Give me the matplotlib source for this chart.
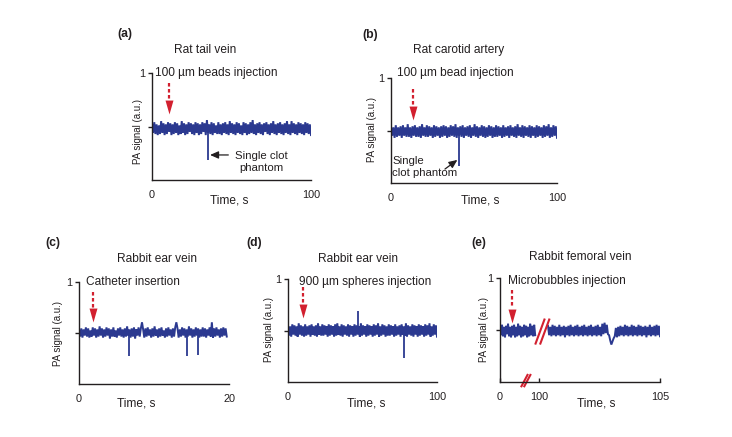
import numpy as np
import matplotlib

matplotlib.use("Agg")
import matplotlib.pyplot as plt  # noqa: E402

NAVY = "#2b3990"
RED = "#d2202f"
INK = "#231f20"

# ---- panel (a): rat tail vein ----
A_END = 100
A_BASE = 0.48
A_NOISE = [5, -4, 6, -5, 4, -6, 3, -5, 7, -4, 5, -6, 4, -5, 6, -3, 5, -6, 4, -5,
           6, -4, 5, -6, 3, -5, 7, -4, 5, -6, 4, -5, 6, -3, 5, -5, 4, -6, 6, -4,
           5, -6, 4, -5, 6, -3, 5, -6, 8, -4, 4, -5, 6, -6, 5, -4, 3, -5, 6, -5,
           4, -6, 5, -4, 6, -5, 4, -6, 7, -4, 5, -5, 4, -6, 6, -4, 5, -5, 3, -6,
           6, -4, 5, -6, 4, -5, 6, -4, 8, -5, 4, -6, 5, -4, 6, -5, 4, -6, 5, -3,
           6, -5, 4, -6, 5, -4, 7, -5, 4, -6, 5, -4, 6, -5, 4, -6, 5, -4, 7, -5,
           4, -6, 7, -4, 5, -5, 4, -6, 6, -4, 5, -5, 4, -6, 6, -4, 5, -5, 4, -6]
A_SPIKE_T = [35]
A_SPIKE_V = [0.19]

# ---- panel (b): rat carotid artery ----
B_END = 100
B_BASE = 0.49
B_NOISE = [5, -4, 4, -6, 6, -5, 4, -4, 5, -6, 6, -4, 4, -5, 7, -5, 4, -6, 5, -4,
           6, -5, 4, -5, 5, -6, 7, -4, 4, -5, 6, -5, 5, -4, 4, -6, 6, -5, 5, -4,
           4, -6, 5, -5, 6, -4, 5, -6, 4, -5, 6, -4, 5, -5, 7, -6, 4, -4, 5, -5,
           6, -6, 4, -4, 5, -5, 6, -6, 4, -4, 7, -5, 5, -6, 4, -4, 6, -5, 5, -6,
           4, -5, 6, -4, 5, -6, 4, -5, 6, -5, 5, -4, 4, -6, 6, -5, 4, -4, 5, -6,
           6, -4, 4, -5, 5, -6, 7, -4, 4, -5, 6, -6, 5, -4, 4, -5, 6, -6, 5, -4,
           4, -6, 6, -5, 5, -4, 4, -6, 6, -5, 5, -4, 7, -6, 4, -5, 6, -4, 5, -6]
B_SPIKE_T = [41]
B_SPIKE_V = [0.16]

# ---- panel (c): rabbit ear vein, catheter ----
C_END = 19.7
C_BASE = 0.505
C_NOISE = [3, -4, 4, -5, 3, -3, 5, -4, 4, -5, 2, -4, 5, -3, 4, -5, 3, -4, 6, -3,
           4, -5, 3, -4, 5, -3, 4, -6, 3, -4, 5, -4, 2, -5, 4, -3, 5, -4, 3, -5,
           4, -4, 6, -3, 3, -5, 4, -4, 5, -6, 3, -3, 5, -4, 4, 10, 3, -5, 4, -4,
           5, -3, 3, -5, 4, -4, 6, -3, 3, -5, 4, -4, 5, -3, 2, -5, 4, -4, 5, -3,
           3, -5, 4, -4, 5, 10, 4, -5, 3, -4, 5, -3, 4, -5, 3, -4, 6, -3, 4, -5,
           3, -4, 5, -3, 4, -5, 3, -4, 5, -4, 4, -5, 3, -3, 5, -4, 10, -5, 4, -4,
           5, -3, 3, -5, 4, -4, 5, -3, 4, -4]
C_SPIKE_T = [6.7, 14.4, 15.8]
C_SPIKE_V = [0.27, 0.27, 0.28]

# ---- panel (d): rabbit ear vein, spheres ----
D_END = 100
D_BASE = 0.50
D_NOISE = [5, -5, 4, -6, 6, -4, 5, -5, 4, -6, 7, -4, 5, -5, 4, -6, 6, -5, 4, -4,
           5, -6, 6, -4, 4, -5, 5, -6, 7, -4, 4, -5, 6, -5, 5, -4, 4, -6, 6, -5,
           5, -4, 4, -6, 6, -5, 7, -4, 4, -5, 6, -6, 5, -4, 4, -5, 6, -6, 5, -4,
           4, -6, 6, -5, 5, -4, 4, -6, 7, -5, 5, -4, 4, -6, 6, -5, 5, -4, 4, -6,
           6, -5, 5, -4, 7, -6, 4, -5, 6, -4, 5, -6, 4, -5, 6, -5, 5, -4, 4, -6,
           6, -5, 4, -4, 5, -6, 6, -4, 4, -5, 7, -6, 5, -4, 4, -5, 6, -6, 5, -4,
           4, -6, 6, -5, 5, -4, 4, -6, 6, -5, 5, -4, 7, -6, 4, -5, 6, -4, 5, -6]
D_SPIKE_T = [47, 78]
D_SPIKE_V = [0.69, 0.23]

# ---- panel (e): rabbit femoral vein (broken time axis) ----
E_BASE = 0.49
E1_RANGE = (0, 22)
E1_NOISE = [5, -4, 6, -5, 4, -6, 5, -3, 7, -5, 4, -6, 5, -4, 6, -6, 4, -5, 7, -4,
            5, -6, 4, -5, 6, -4, 5, -6, 4, -5, 7, -4, 5, -5, 6, -4]
E2_RANGE = (30, 100)
E2_NOISE = [5, -4, 4, -5, 6, -4, 5, -5, 4, -4, 6, -5, 4, -4, 5, -6, 4, -4, 5, -5,
            6, -4, 4, -5, 5, -4, 6, -5, 4, -4, 5, -5, 6, -4, 4, -5, 5, -4, 6, -5,
            4, -4, 5, -5, 6, -4, 4, -5, 7, -3, 8, -2, 6, -3, -4, -9, -13, -10, -7, -5,
            3, -6, 4, -5, 5, -4, 4, -5, 6, -4, 5, -5, 4, -4, 6, -5, 5, -4, 4, -5,
            6, -4, 5, -5, 4, -4, 5, -6, 4, -4, 6, -5, 4, -4, 5, -5, 6, -4, 5, -5]
E_TICKS = [0, 24.6, 100]
E_TICKLABELS = ["0", "100", "105"]

LETTERS = ["(a)", "(b)", "(c)", "(d)", "(e)"]
TITLES = ["Rat tail vein", "Rat carotid artery", "Rabbit ear vein",
          "Rabbit ear vein", "Rabbit femoral vein"]
INJECTIONS = ["100 \u00b5m beads injection", "100 \u00b5m bead injection",
              "Catheter insertion", "900 \u00b5m spheres injection",
              "Microbubbles injection"]
XMAX_LABEL = ["100", "100", "20", "100", None]

plt.rcParams["font.family"] = ["Liberation Sans", "DejaVu Sans"]
FS = 8.6      # titles, annotations, axis titles
CFS = 8.2     # clot annotations
YFS = 7.0     # y-axis label
TFS = 7.8     # tick labels
LFS = 8.8     # panel letters

fig = plt.figure(figsize=(7.32, 4.37), dpi=100)
fig.patch.set_facecolor("white")

# axes rectangles in pixels: left, right, top, bottom
RECTS = [(152, 311, 73, 180), (391, 557, 78, 183), (79, 229, 282, 384),
         (288, 437, 279, 382), (500, 660, 278, 382)]
axes = []
for l, r, t, b in RECTS:
    axes.append(fig.add_axes([l / 732, 1 - b / 437, (r - l) / 732, (b - t) / 437]))

# text placement (axes fractions): title, letter, xlabel, ylabel
TITLE_POS = [(0.333, 1.215), (0.406, 1.267), (0.518, 1.222), (0.472, 1.19), (0.5, 1.2)]
LETTER_POS = [(-0.17, 1.36), (-0.127, 1.41), (-0.177, 1.38), (-0.228, 1.35), (-0.13, 1.34)]
XLAB_POS = [(0.484, -0.187), (0.536, -0.162), (0.384, -0.19), (0.528, -0.207), (0.604, -0.205)]
YLAB_POS = [(-0.088, 0.45), (-0.114, 0.505), (-0.138, 0.497), (-0.125, 0.505), (-0.1, 0.5)]
# injection label (data x, axes y) and arrow (x, dash start, head top, tip)
INJ_POS = [(2, 1.0), (3.4, 1.05), (0.9, 1.0), (7.6, 0.97), (5.2, 0.97)]
ARROWS = [(10.9, 0.91, 0.748, 0.617), (13.5, 0.90, 0.733, 0.60),
          (1.9, 0.905, 0.745, 0.61), (9.8, 0.925, 0.757, 0.628),
          (7.3, 0.885, 0.708, 0.564)]
XLIMS = [100, 100, 20, 100, 100]

head = [(-4, 7), (4, 7), (0, -7), (-4, 7)]


def trace(ax, end, base, noise, spike_t=(), spike_v=(), start=0):
    t = np.linspace(start, end, len(noise))
    y = base + np.array(noise) / 100
    ax.plot(t, y, color=NAVY, lw=1.4, solid_joinstyle="miter")
    if len(spike_t):
        ax.vlines(spike_t, base, spike_v, color=NAVY, lw=1.3)


trace(axes[0], A_END, A_BASE, A_NOISE, A_SPIKE_T, A_SPIKE_V)
trace(axes[1], B_END, B_BASE, B_NOISE, B_SPIKE_T, B_SPIKE_V)
trace(axes[2], C_END, C_BASE, C_NOISE, C_SPIKE_T, C_SPIKE_V)
trace(axes[3], D_END, D_BASE, D_NOISE, D_SPIKE_T, D_SPIKE_V)
trace(axes[4], E1_RANGE[1], E_BASE, E1_NOISE, start=E1_RANGE[0])
trace(axes[4], E2_RANGE[1], E_BASE, E2_NOISE, start=E2_RANGE[0])

for i, ax in enumerate(axes):
    ax.set_xlim(0, XLIMS[i])
    ax.set_ylim(0, 1)
    for side in ("top", "right"):
        ax.spines[side].set_visible(False)
    for side in ("left", "bottom"):
        ax.spines[side].set_color(INK)
        ax.spines[side].set_linewidth(1.0)
    ax.set_yticks([0.5, 1])
    ax.set_yticklabels(["", "1"])
    if XMAX_LABEL[i] is None:
        ax.set_xticks(E_TICKS)
        ax.set_xticklabels(E_TICKLABELS)
        ax.tick_params(axis="x", direction="in", length=3, width=1, color=INK, pad=7)
    else:
        ax.set_xticks([0, XLIMS[i]])
        ax.set_xticklabels(["0", XMAX_LABEL[i]])
        ax.tick_params(axis="x", length=0, pad=7)
    ax.tick_params(axis="y", length=3, width=1, color=INK, pad=1.5)
    ax.tick_params(labelsize=TFS, labelcolor=INK)

    ax.text(*TITLE_POS[i], TITLES[i], transform=ax.transAxes, ha="center",
            va="center", fontsize=FS, color=INK)
    ax.text(*LETTER_POS[i], LETTERS[i], transform=ax.transAxes, ha="center",
            va="center", fontsize=LFS, fontweight="bold", color=INK)
    ax.text(*XLAB_POS[i], "Time, s", transform=ax.transAxes, ha="center",
            va="center", fontsize=FS, color=INK)
    ax.text(*YLAB_POS[i], "PA signal (a.u.)", transform=ax.transAxes, ha="center",
            va="center", rotation=90, fontsize=YFS, color=INK)
    ax.text(INJ_POS[i][0], INJ_POS[i][1], INJECTIONS[i], transform=ax.get_xaxis_transform(),
            ha="left", va="center", fontsize=FS, color=INK, clip_on=False)

    x, y0, y1, tip = ARROWS[i]
    ax.plot([x, x], [y0, y1], color=RED, lw=1.6, ls=(0, (1.6, 1.1)),
            solid_capstyle="butt", clip_on=False)
    ax.plot([x], [(y1 + tip) / 2], marker=head, ms=10, color=RED, mew=0,
            clip_on=False)

# clot annotations
axes[0].annotate("", xy=(36.5, 0.234), xytext=(48, 0.234),
                 arrowprops=dict(arrowstyle="-|>,head_length=0.5,head_width=0.22",
                                 color=INK, lw=0.9, shrinkA=0, shrinkB=0))
axes[0].text(68.5, 0.167, "Single clot\nphantom", ha="center", va="center",
             fontsize=CFS, color=INK, linespacing=1.25)
axes[1].annotate("", xy=(40, 0.22), xytext=(32.5, 0.133),
                 arrowprops=dict(arrowstyle="-|>,head_length=0.5,head_width=0.22",
                                 color=INK, lw=0.9, shrinkA=0, shrinkB=0))
axes[1].text(0.6, 0.15, "Single\nclot phantom", ha="left", va="center",
             fontsize=CFS, color=INK, linespacing=1.25)

# axis-break marks for panel (e)
ax = axes[4]
for dx in (0, 3):
    ax.plot([22 + dx, 28 + dx], [0.36, 0.61], color=RED, lw=1.5,
            solid_capstyle="butt")
    ax.plot([13.1 + dx * 0.6, 17.5 + dx * 0.6], [-0.05, 0.077], color=RED, lw=1.5,
            solid_capstyle="butt", clip_on=False)

fig.savefig("out.png", dpi=100, facecolor="white")
